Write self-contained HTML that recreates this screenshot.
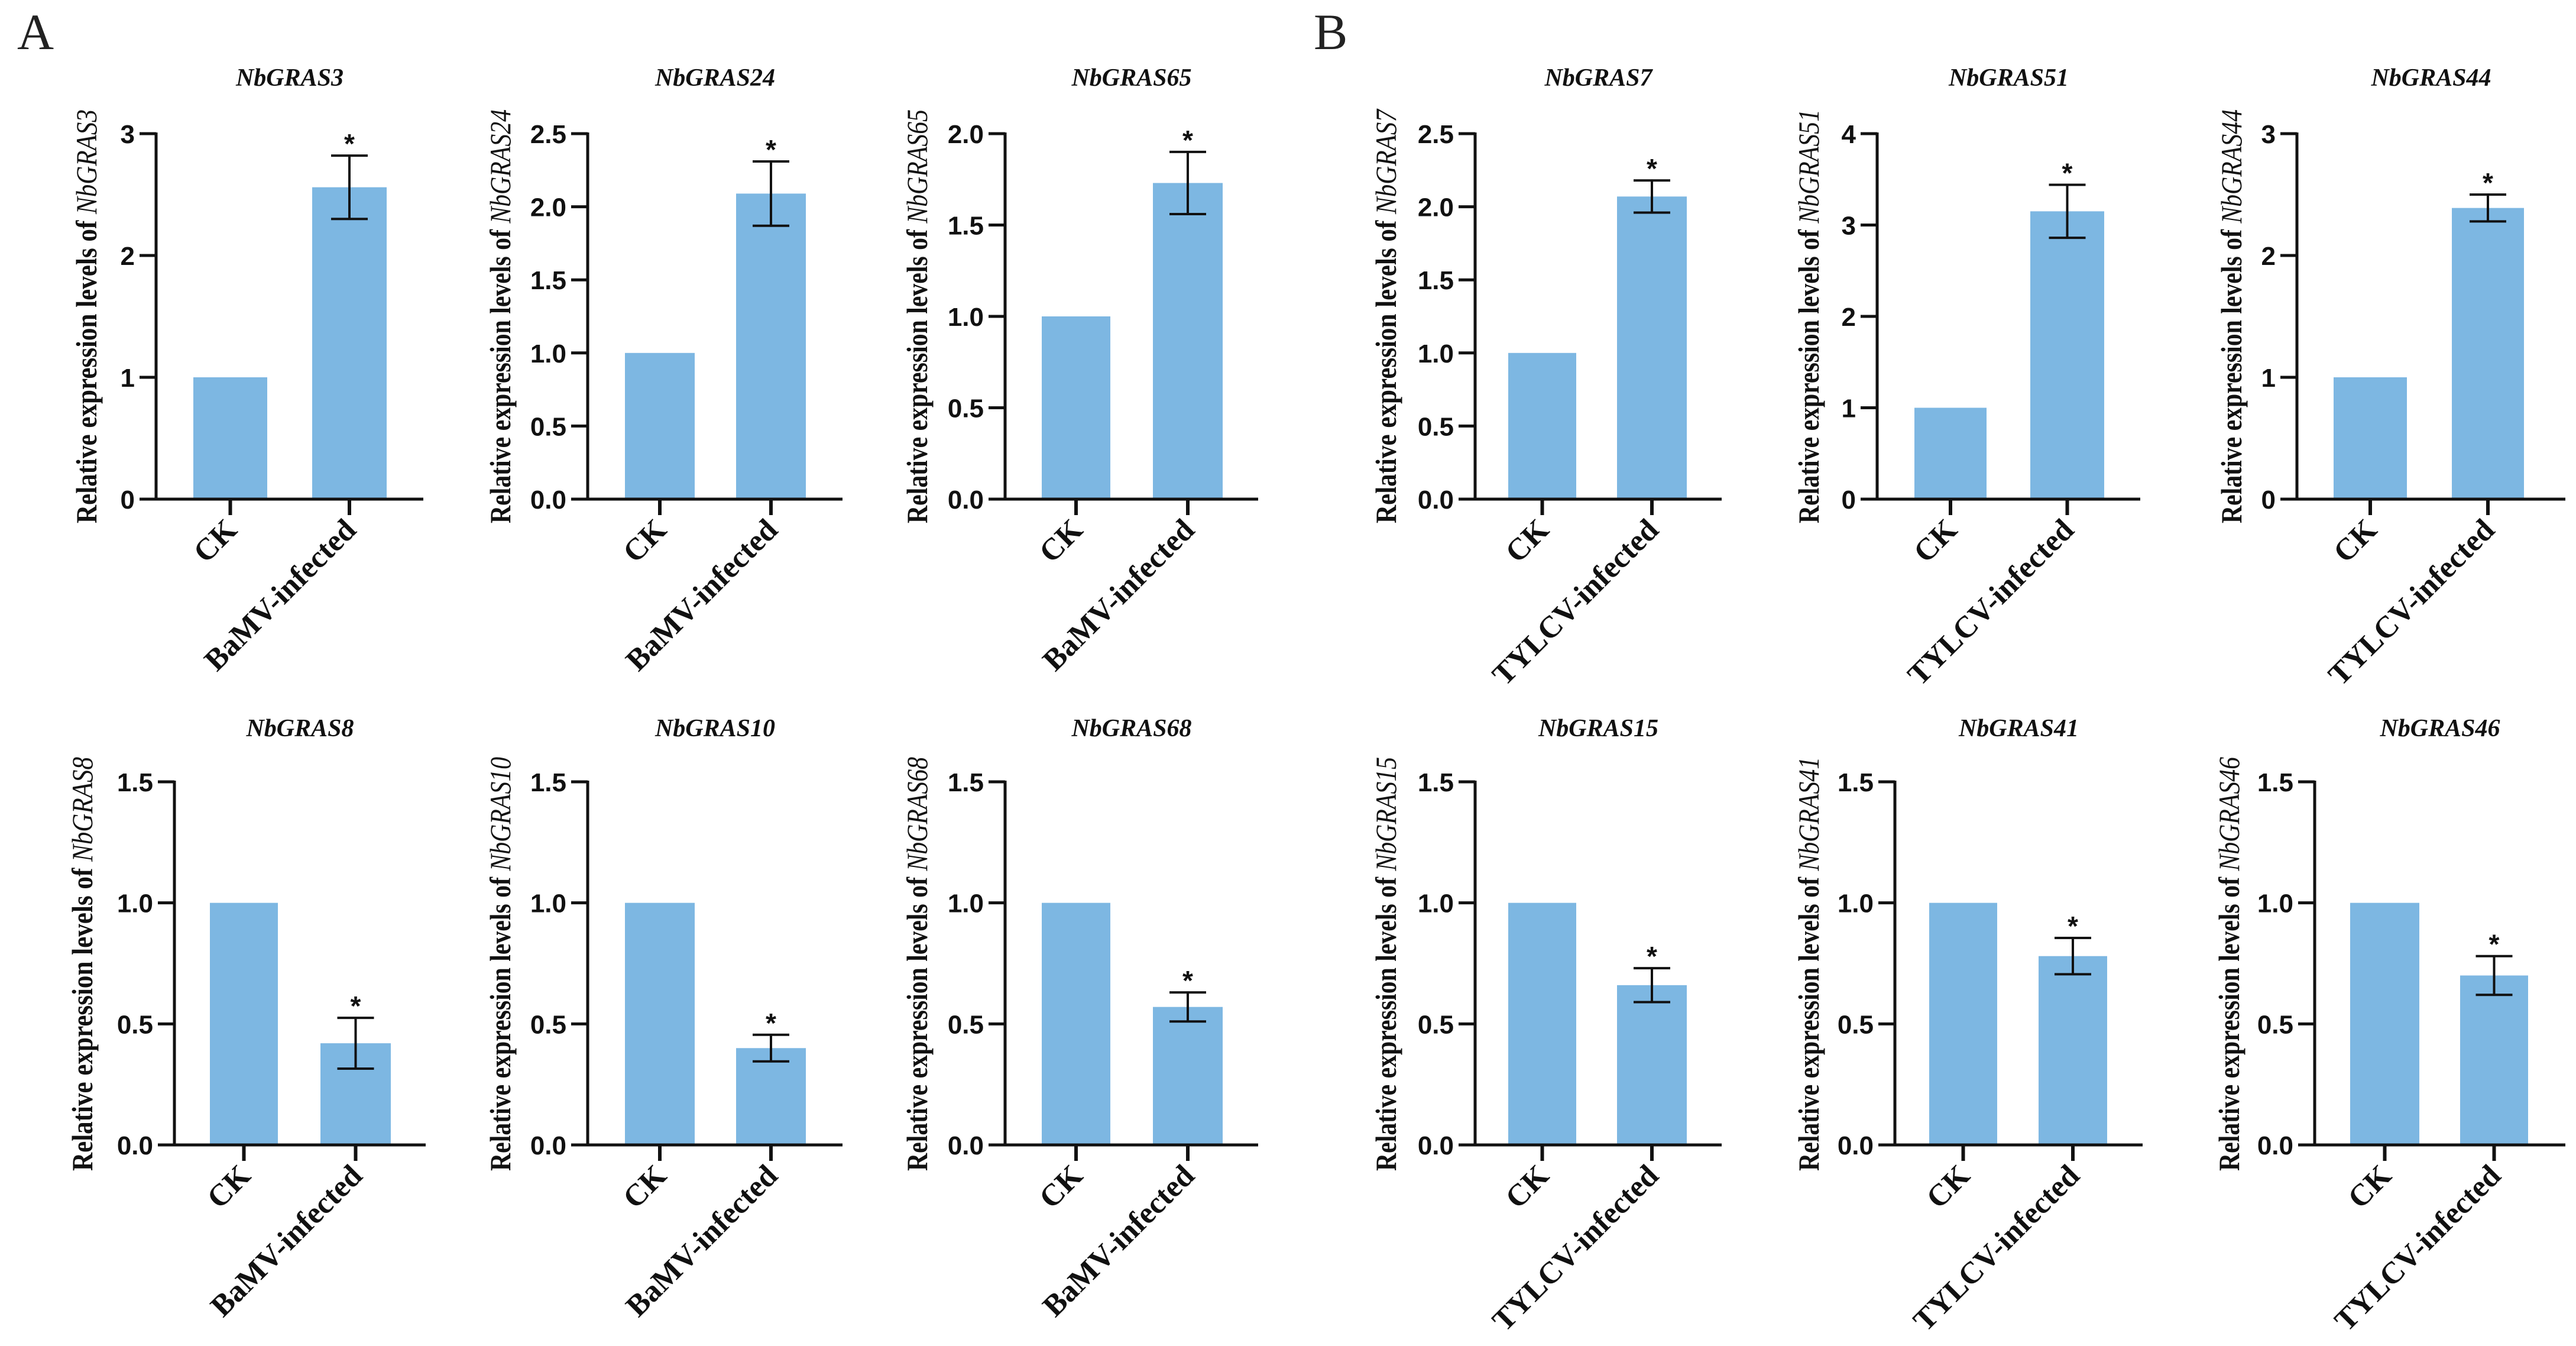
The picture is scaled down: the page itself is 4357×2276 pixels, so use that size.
<!DOCTYPE html>
<html><head><meta charset="utf-8"><style>
html,body{margin:0;padding:0;background:#fff;}
svg{display:block;}
</style></head><body>
<svg id="fig" width="4357" height="2276" viewBox="0 0 4357 2276" xmlns="http://www.w3.org/2000/svg">
<rect width="4357" height="2276" fill="#fff"/>
<text x="29" y="83" font-family="Liberation Serif, serif" font-size="86" fill="#222">A</text>
<text x="2222" y="83" font-family="Liberation Serif, serif" font-size="86" fill="#222">B</text>
<g id="charts"></g>
</svg>
<script>
// ---- data ----
const genes = ["NbGRAS3","NbGRAS24","NbGRAS65","NbGRAS8","NbGRAS10","NbGRAS68","NbGRAS7","NbGRAS51","NbGRAS44","NbGRAS15","NbGRAS41","NbGRAS46"];
const categoriesBaMV = ["CK","BaMV-infected"];
const categoriesTYLCV = ["CK","TYLCV-infected"];
const ckValues = [1,1,1,1,1,1,1,1,1,1,1,1];
const infectedValues = [2.56,2.09,1.73,0.42,0.40,0.57,2.07,3.15,2.39,0.66,0.78,0.70];
const errorValues = [0.26,0.22,0.17,0.105,0.055,0.06,0.11,0.29,0.11,0.07,0.075,0.08];
const yMaxValues = [3,2.5,2,1.5,1.5,1.5,2.5,4,3,1.5,1.5,1.5];
const yStepValues = [1,0.5,0.5,0.5,0.5,0.5,0.5,1,1,0.5,0.5,0.5];

// ---- layout (pixels) ----
const axisLeft  = [264,994,1700,295,994,1700,2495,3175,3885,2495,3205,3915];
const axisRight = [716,1425,2128,720,1425,2128,2912,3620,4339,2912,3624,4339];
const barA = [[327,452],[1057,1175],[1762,1878],[355,470],[1057,1175],[1762,1878],[2551,2666],[3238,3360],[3947,4071],[2551,2666],[3263,3378],[3975,4092]];
const barB = [[528,654],[1245,1363],[1950,2068],[542,661],[1245,1363],[1950,2068],[2735,2853],[3434,3559],[4147,4269],[2735,2853],[3448,3564],[4161,4276]];
const ylabX = [146,846,1551,139,846,1551,2344,3059,3774,2344,3059,3770];

const NS="http://www.w3.org/2000/svg";
const root=document.getElementById('charts');
function mk(tag,attrs,parent){const e=document.createElementNS(NS,tag);for(const k in attrs)e.setAttribute(k,attrs[k]);(parent||root).appendChild(e);return e;}

for(let i=0;i<12;i++){
  const top = (i%6)<3;
  const yTop = top?226:1322, y0 = top?844:1936;
  const titleY = top?145:1245;
  const labCY = top?535:1630;
  const x0=axisLeft[i], x1=axisRight[i], ymax=yMaxValues[i];
  const yScale = v => y0-(v/ymax)*(y0-yTop);
  const g=mk('g',{});
  
  
  // title
  const t=mk('text',{x:(x0+x1)/2,y:titleY,'text-anchor':'middle','font-family':'Liberation Serif, serif','font-size':42,'font-weight':'bold','font-style':'italic',fill:'#111'},g);
  t.textContent=genes[i];
  
  
  // y label
  const yl=mk('text',{x:0,y:0,transform:`translate(${ylabX[i]+17},${labCY}) rotate(-90)`,'text-anchor':'middle','font-family':'Liberation Serif, serif','font-size':50,'font-weight':'bold',fill:'#111',textLength:700,lengthAdjust:'spacingAndGlyphs'},g);
  
  
  const s1=mk('tspan',{},yl);s1.textContent='Relative expression levels of ';
  const s2=mk('tspan',{'font-style':'italic','font-weight':'normal'},yl);s2.textContent=genes[i];
  // bars
  const vals=[ckValues[i],infectedValues[i]];
  const bx=[barA[i],barB[i]];
  const cats = i<6?categoriesBaMV:categoriesTYLCV;
  for(let b=0;b<2;b++){
    const r=mk('rect',{x:bx[b][0],y:yScale(vals[b]),width:bx[b][1]-bx[b][0],height:y0-yScale(vals[b]),fill:'#7db7e2'},g);
    
    
    const cx=(bx[b][0]+bx[b][1])/2;
    mk('line',{x1:cx,x2:cx,y1:y0,y2:y0+27,stroke:'#111','stroke-width':6},g);
    const cl=mk('text',{x:0,y:0,transform:`translate(${cx+14},${y0+55}) rotate(-45)`,'text-anchor':'end','font-family':'Liberation Serif, serif','font-size':52,'font-weight':'bold',fill:'#111'},g);
    cl.textContent=cats[b];
    
    
  }
  // error bar
  const cx=(bx[1][0]+bx[1][1])/2, v=infectedValues[i], e=errorValues[i];
  const eg=mk('g',{stroke:'#111','stroke-width':4},g);
  
  
  mk('line',{x1:cx,x2:cx,y1:yScale(v+e),y2:yScale(v-e)},eg);
  mk('line',{x1:cx-31,x2:cx+31,y1:yScale(v+e),y2:yScale(v+e)},eg);
  mk('line',{x1:cx-31,x2:cx+31,y1:yScale(v-e),y2:yScale(v-e)},eg);
  const st=mk('text',{x:cx,y:yScale(v+e)-4,'text-anchor':'middle','font-family':'Liberation Sans, sans-serif','font-size':46,'font-weight':'bold',fill:'#111'},g);
  st.textContent='*';
  
  
  // y ticks
  const step=yStepValues[i];
  const n=Math.round(ymax/step);
  for(let k=0;k<=n;k++){
    const tv=k*step, ty=yScale(tv);
    mk('line',{x1:x0-28,x2:x0,y1:ty,y2:ty,stroke:'#111','stroke-width':5},g);
    const tl=mk('text',{x:x0-36,y:ty+16,'text-anchor':'end','font-family':'Liberation Sans, sans-serif','font-size':44,'font-weight':'bold',fill:'#111'},g);
    tl.textContent = step<1 ? tv.toFixed(1) : String(tv);
    
    
  }
  // axes
  const ya=mk('line',{x1:x0,x2:x0,y1:yTop-2,y2:y0+2.5,stroke:'#111','stroke-width':5},g);
  
  
  const xa=mk('line',{x1:x0-2.5,x2:x1,y1:y0,y2:y0,stroke:'#111','stroke-width':5},g);
  
  
}
</script>
</body></html>
